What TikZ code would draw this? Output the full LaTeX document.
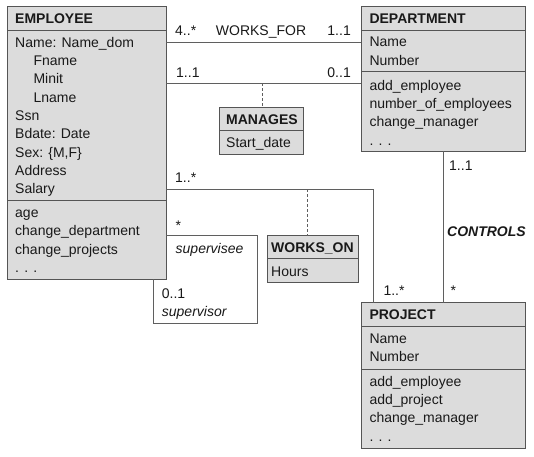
\documentclass[tikz,border=0pt]{standalone}
\usepackage{fontspec}
\setmainfont{Liberation Sans}
\definecolor{fillc}{RGB}{220,220,220}
\definecolor{boxc}{RGB}{85,85,85}
\definecolor{linec}{RGB}{95,95,95}
\definecolor{txtc}{RGB}{25,25,25}
\tikzset{
  cls/.style={draw=boxc, fill=fillc, line width=1pt, rectangle, inner sep=0pt, outer sep=0pt, anchor=north west},
  divider/.style={draw=boxc, line width=1pt},
  txt/.style={inner sep=0pt, anchor=base west, text=txtc, font=\fontsize{14}{16}\selectfont},
  txtr/.style={txt, anchor=base east},
  hdr/.style={txt, font=\fontsize{14}{16}\selectfont\bfseries},
  itxt/.style={txt, font=\fontsize{14}{16}\selectfont\itshape},
  bitxt/.style={txt, font=\fontsize{14}{16}\selectfont\bfseries\itshape},
  conn/.style={draw=linec, line width=0.9pt},
  dashconn/.style={draw=linec, line width=0.9pt, dash pattern=on 3pt off 2pt}
}
\begin{document}
\begin{tikzpicture}[x=1pt, y=-1pt]
\useasboundingbox (0,0) rectangle (534,456);
\fill[white] (0,0) rectangle (534,456);

% ---------- class boxes ----------
\node[cls, minimum width=159pt, minimum height=273pt] (emp) at (7,6) {};
\node[cls, minimum width=164pt, minimum height=145pt] (dept) at (361,6) {};
\node[cls, minimum width=84pt, minimum height=46.7pt] (mgr) at (219,107.3) {};
\node[cls, minimum width=91pt, minimum height=47pt] (won) at (267,235.7) {};
\node[cls, minimum width=164pt, minimum height=145.6pt] (proj) at (361,302.7) {};

% ---------- dividers ----------
\draw[divider] (emp.west |- 0,30) -- (emp.east |- 0,30);
\draw[divider] (emp.west |- 0,200) -- (emp.east |- 0,200);
\draw[divider] (dept.west |- 0,30) -- (dept.east |- 0,30);
\draw[divider] (dept.west |- 0,71.7) -- (dept.east |- 0,71.7);
\draw[divider] (mgr.west |- 0,130.7) -- (mgr.east |- 0,130.7);
\draw[divider] (won.west |- 0,258.5) -- (won.east |- 0,258.5);
\draw[divider] (proj.west |- 0,326.7) -- (proj.east |- 0,326.7);
\draw[divider] (proj.west |- 0,369.3) -- (proj.east |- 0,369.3);

% ---------- EMPLOYEE text ----------
\node[hdr] (empH) at (15,23.3) {EMPLOYEE};
\foreach \x/\t [count=\i] in {15/Name: Name\_dom, 33.3/Fname, 33.3/Minit, 33.3/Lname, 15/Ssn, 15/Bdate: Date, 15/{Sex: \{M,F\}}, 15/Address, 15/Salary}
  \node[txt] (empA\i) at (\x,{47+18.35*(\i-1)}) {\t};
\foreach \t [count=\i] in {age, change\_department, change\_projects, . . .}
  \node[txt] (empO\i) at (15,{217.5+18.35*(\i-1)}) {\t};

% ---------- DEPARTMENT text ----------
\node[hdr] (deptH) at (369.3,23.3) {DEPARTMENT};
\foreach \t [count=\i] in {Name, Number}
  \node[txt] (deptA\i) at (369.3,{46.7+18.35*(\i-1)}) {\t};
\foreach \t [count=\i] in {add\_employee, number\_of\_employees, change\_manager, . . .}
  \node[txt] (deptO\i) at (369.3,{90+18.35*(\i-1)}) {\t};

% ---------- MANAGES / WORKS_ON text ----------
\node[hdr] (mgrH) at (226,124) {MANAGES};
\node[txt] (mgrA) at (226,147) {Start\_date};
\node[hdr] (wonH) at (271,252.7) {WORKS\_ON};
\node[txt] (wonA) at (271,276) {Hours};

% ---------- PROJECT text ----------
\node[hdr] (projH) at (369.3,319.3) {PROJECT};
\foreach \t [count=\i] in {Name, Number}
  \node[txt] (projA\i) at (369.3,{343.3+18.35*(\i-1)}) {\t};
\foreach \t [count=\i] in {add\_employee, add\_project, change\_manager, . . .}
  \node[txt] (projO\i) at (369.3,{386+18.35*(\i-1)}) {\t};

% ---------- connectors ----------
\draw[conn] (emp.east |- 0,42) -- (dept.west |- 0,42);
\draw[conn] (emp.east |- 0,83.3) -- (dept.west |- 0,83.3);
\coordinate (mgrLink) at (262,83.3);
\draw[dashconn] (mgrLink) -- (mgr.north -| mgrLink);

\draw[conn] (emp.east |- 0,189) -| (proj.north -| 373.5,0);
\coordinate (wonLink) at (307.7,189);
\draw[dashconn] (wonLink) -- (won.north -| wonLink);

\coordinate (supA) at (257,323);
\coordinate (supB) at (153,279);
\draw[conn] (emp.east |- 0,235.7) -| (supA) -| (emp.south -| supB);

\draw[conn] (dept.south -| 443.3,0) -- (proj.north -| 443.3,0);

% ---------- association labels ----------
\node[txt] (l1) at (175,35) {4..*};
\node[txt] (l2) at (215.7,35) {WORKS\_FOR};
\node[txtr] (l3) at (351,35) {1..1};
\node[txt] (l4) at (176,77.3) {1..1};
\node[txtr] (l5) at (351,77.3) {0..1};
\node[txt] (l6) at (175,182.7) {1..*};
\node[txt] (l7) at (175.3,230) {*};
\node[itxt] (l8) at (175.5,253.3) {supervisee};
\node[txt] (l9) at (161.7,298.3) {0..1};
\node[itxt] (l10) at (161.7,316) {supervisor};
\node[txt] (l11) at (383.3,295) {1..*};
\node[txt] (l12) at (450.3,295) {*};
\node[txt] (l13) at (449,170) {1..1};
\node[bitxt] (l14) at (447,236.7) {CONTROLS};
\end{tikzpicture}
\end{document}
